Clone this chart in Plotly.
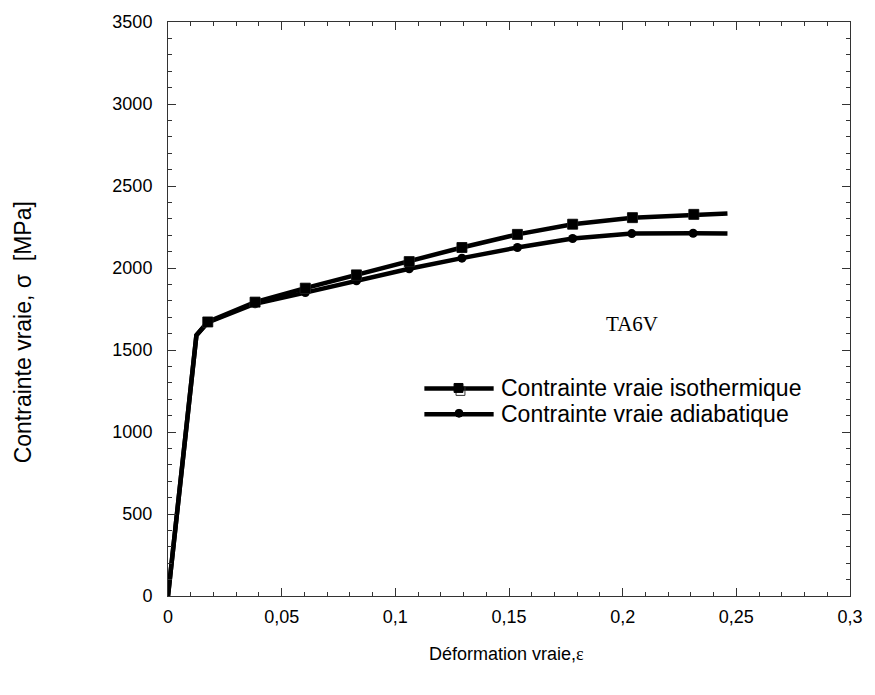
import plotly.graph_objects as go

# Data
iso_strain = [0.0, 0.0125, 0.0175, 0.0383, 0.0604, 0.0829, 0.1061, 0.1293, 0.1537, 0.178, 0.2043, 0.2313, 0.2461]
iso_stress = [0, 1590, 1671, 1792, 1877, 1958, 2039, 2125, 2205, 2267, 2307, 2327, 2333]
iso_marker_strain = [0.0175, 0.0383, 0.0604, 0.0829, 0.1061, 0.1293, 0.1537, 0.178, 0.2043, 0.2313]
iso_marker_stress = [1671, 1792, 1877, 1958, 2039, 2125, 2205, 2267, 2307, 2327]

adi_strain = [0.0, 0.0125, 0.0175, 0.0383, 0.0604, 0.0829, 0.1061, 0.1293, 0.1537, 0.178, 0.204, 0.231, 0.2461]
adi_stress = [0, 1590, 1668, 1782, 1850, 1922, 1995, 2060, 2125, 2180, 2210, 2212, 2210]
adi_marker_strain = [0.0175, 0.0383, 0.0604, 0.0829, 0.1061, 0.1293, 0.1537, 0.178, 0.204, 0.231]
adi_marker_stress = [1668, 1782, 1850, 1922, 1995, 2060, 2125, 2180, 2210, 2212]

x_ticks = [0, 0.05, 0.1, 0.15, 0.2, 0.25, 0.3]
y_ticks = [0, 500, 1000, 1500, 2000, 2500, 3000, 3500]

W, H = 875, 695
L, R, T, B = 168, 18, 18, 99
PW, PH = W - L - R, H - T - B

def px(xp):
    return (xp - L) / PW

def py(yp):
    return (H - B - yp) / PH

FONT = "Liberation Sans, Arial"

fig = go.Figure()
fig.add_trace(go.Scatter(x=adi_strain, y=adi_stress, mode="lines",
                         line=dict(color="black", width=4.5), showlegend=False))
fig.add_trace(go.Scatter(x=adi_marker_strain, y=adi_marker_stress, mode="markers",
                         marker=dict(symbol="circle", size=9, color="black"), showlegend=False))
fig.add_trace(go.Scatter(x=iso_strain, y=iso_stress, mode="lines",
                         line=dict(color="black", width=4.5), showlegend=False))
fig.add_trace(go.Scatter(x=iso_marker_strain, y=iso_marker_stress, mode="markers",
                         marker=dict(symbol="square-open", size=10, color="#333",
                                     line=dict(color="#333", width=1)),
                         showlegend=False))
fig.add_trace(go.Scatter(x=iso_marker_strain, y=iso_marker_stress, mode="markers",
                         marker=dict(symbol="square", size=10, color="black"),
                         showlegend=False))

axis_common = dict(showline=True, linecolor="#333", linewidth=1, mirror="allticks",
                   ticks="inside", ticklen=8, tickcolor="#333", tickwidth=1,
                   showgrid=False, zeroline=False,
                   tickfont=dict(family=FONT, size=18, color="black"))

fig.update_xaxes(range=[0, 0.3], tickvals=x_ticks, **axis_common,
                 ticklabelstandoff=4,
                 minor=dict(ticks="inside", dtick=0.01, ticklen=4, tickcolor="#333", showgrid=False))
fig.update_yaxes(range=[0, 3500], tickvals=y_ticks, **axis_common,
                 ticklabelstandoff=11,
                 minor=dict(ticks="inside", dtick=100, ticklen=4, tickcolor="#333", showgrid=False))

shapes = []
annotations = []
# Manual legend
for yy in [387, 413]:
    shapes.append(dict(type="line", xref="paper", yref="paper",
                       x0=px(427), x1=px(497), y0=py(yy), y1=py(yy),
                       line=dict(color="black", width=4.5)))
shapes.append(dict(type="rect", xref="paper", yref="paper",
                   x0=px(459), x1=px(468), y0=py(385), y1=py(394),
                   fillcolor="rgba(0,0,0,0)", line=dict(color="#333", width=1)))
shapes.append(dict(type="rect", xref="paper", yref="paper",
                   x0=px(457), x1=px(466), y0=py(382), y1=py(391),
                   fillcolor="black", line=dict(color="black", width=1)))
shapes.append(dict(type="circle", xref="paper", yref="paper",
                   x0=px(458), x1=px(466), y0=py(408), y1=py(416),
                   fillcolor="black", line=dict(color="black", width=1)))
annotations.append(dict(text="Contrainte vraie isothermique", xref="paper", yref="paper",
                        x=px(502), y=py(387), xanchor="left", yanchor="middle", showarrow=False,
                        font=dict(family=FONT, size=23, color="black")))
annotations.append(dict(text="Contrainte vraie adiabatique", xref="paper", yref="paper",
                        x=px(502), y=py(413), xanchor="left", yanchor="middle", showarrow=False,
                        font=dict(family=FONT, size=23, color="black")))
annotations.append(dict(text="TA6V", xref="paper", yref="paper",
                        x=px(637), y=py(322), xanchor="center", yanchor="middle", showarrow=False,
                        font=dict(family="Liberation Serif, Times New Roman", size=21, color="black")))
# Axis titles
annotations.append(dict(text="Déformation vraie,<span style=\"font-family:Liberation Serif\">ε</span>",
                        xref="paper", yref="paper", x=px(510), y=py(654),
                        xanchor="center", yanchor="middle", showarrow=False,
                        font=dict(family=FONT, size=18, color="black")))
annotations.append(dict(text="Contrainte vraie, σ  [MPa]",
                        xref="paper", yref="paper", x=px(21), y=py(330),
                        xanchor="center", yanchor="middle", showarrow=False, textangle=-90,
                        font=dict(family=FONT, size=23, color="black")))

fig.update_layout(width=W, height=H, margin=dict(l=L, r=R, t=T, b=B),
                  plot_bgcolor="white", paper_bgcolor="white",
                  separators=", ", showlegend=False,
                  shapes=shapes, annotations=annotations)

fig.write_html("out.html")
